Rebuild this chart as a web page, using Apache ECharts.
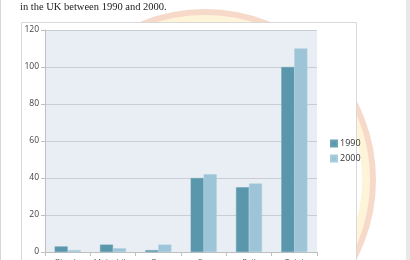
<!DOCTYPE html>
<html>
<head>
<meta charset="utf-8">
<script src="https://cdn.jsdelivr.net/npm/echarts@6/dist/echarts.min.js"></script>
<style>
html,body{margin:0;padding:0;background:#fff;}
#c{width:410px;height:260px;}
</style>
</head>
<body>
<div id="c"></div>
<script>
var categories = ['Bicycle', 'Motorbike', 'Bus', 'Car', 'Rail', 'Total'];
var values1990 = [3, 4, 1, 40, 35, 100];
var values2000 = [1, 2, 4, 42, 37, 110];
var seriesNames = ['1990', '2000'];
var yTicks = { min: 0, max: 120, interval: 20 };

var chart = echarts.init(document.getElementById('c'), null, { renderer: 'canvas' });
chart.setOption({
  animation: false,
  backgroundColor: '#ffffff',
  graphic: [
    { type: 'rect', z: -20, shape: { x: 0, y: 0, width: 1, height: 260 }, style: { fill: '#d6d6d6' } },
    { type: 'rect', z: -20, shape: { x: 406, y: 0, width: 4, height: 260 }, style: { fill: '#e8e8e8' } },
    { type: 'circle', z: -19, shape: { cx: 205, cy: 180, r: 168 }, style: { fill: 'none', stroke: 'rgba(236,160,120,0.4)', lineWidth: 6 } },
    { type: 'circle', z: -19, shape: { cx: 205, cy: 180, r: 161 }, style: { fill: 'none', stroke: 'rgba(250,228,160,0.4)', lineWidth: 8 } },
    { type: 'rect', z: -18, shape: { x: 21.5, y: 22.5, width: 335, height: 250 }, style: { fill: '#ffffff', stroke: '#d9d9d9', lineWidth: 1 } },
    { type: 'text', z: 10, left: 20, top: 2, style: { text: 'in the UK between 1990 and 2000.', font: '10.5px "Liberation Serif", serif', fill: '#222' } }
  ],
  grid: { left: 45, right: 93, top: 30, bottom: 8, outerBoundsMode: 'none', containLabel: false, show: true, backgroundColor: '#e9eef4', borderWidth: 0 },
  legend: {
    data: seriesNames, orient: 'vertical', left: 325, top: 134, itemWidth: 6, itemHeight: 6, itemGap: 6,
    icon: 'rect', textStyle: { fontSize: 9, color: '#333', fontFamily: 'Open Sans, sans-serif', padding: [0, 0, 0, -2] }
  },
  xAxis: {
    type: 'category', data: categories,
    axisLine: { show: true, lineStyle: { color: '#bfbfbf' } },
    axisTick: { show: true, length: 4, lineStyle: { color: '#bfbfbf' } },
    axisLabel: { interval: 0, fontSize: 8, color: '#555', margin: 6, fontFamily: 'Open Sans, sans-serif' }
  },
  yAxis: {
    type: 'value', min: yTicks.min, max: yTicks.max, interval: yTicks.interval,
    axisLine: { show: true, lineStyle: { color: '#bfbfbf' } },
    axisTick: { show: true, length: 4, lineStyle: { color: '#bfbfbf' } },
    axisLabel: { fontSize: 8.5, color: '#444', margin: 6, fontFamily: 'Open Sans, sans-serif' },
    splitLine: { lineStyle: { color: '#c9ced4' } }
  },
  series: [
    { name: seriesNames[0], type: 'bar', data: values1990, barWidth: 13, barGap: '0%',
      itemStyle: { color: '#5b97ac', borderColor: '#6aa2b5', borderWidth: 0.5 } },
    { name: seriesNames[1], type: 'bar', data: values2000, barWidth: 13,
      itemStyle: { color: '#9dc4d7', borderColor: '#aacddd', borderWidth: 0.5 } }
  ]
});
</script>
</body>
</html>
